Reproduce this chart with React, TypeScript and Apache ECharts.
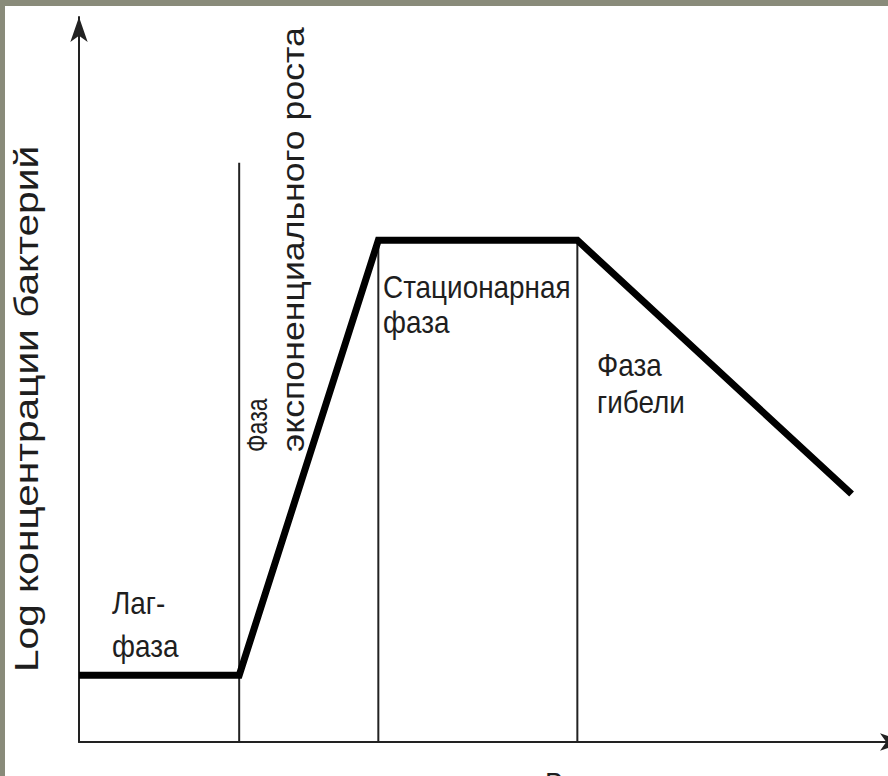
import React, { useEffect, useRef } from "react";
import * as echarts from "echarts";

// Phase boundaries on the time axis and log-concentration levels (axis units 0..100)
const curveX = [0, 19.8, 37.0, 61.6, 95.5];
const curveY = [9.2, 9.2, 69.2, 69.2, 34.2];
// Thin vertical divider lines: [x, top]
const dividerX = [19.8, 37.0, 61.6];
const dividerTop = [79.9, 69.2, 69.2];

const yTitle = "Log концентрации бактерий";
const xTitle = "Время";
const lagLabel = ["Лаг-", "фаза"];
const expLabel = ["Фаза", "экспоненциального роста"];
const statLabel = ["Стационарная", "фаза"];
const deathLabel = ["Фаза", "гибели"];

const FONT = "'Liberation Sans', Arial, sans-serif";
const TXT = "#1e1e1e";

export default function App() {
  const ref = useRef<HTMLDivElement>(null);
  useEffect(() => {
    if (!ref.current) return;
    const chart = echarts.init(ref.current, null, { renderer: "svg" });
    const hText = (text: string, x: number, y: number, size = 31) => ({
      type: "text",
      x,
      y,
      scaleX: 0.9,
      style: {
        text,
        fontSize: size,
        fontFamily: FONT,
        fill: TXT,
        align: "left",
        verticalAlign: "middle",
      },
    });
    const vText = (text: string, x: number, y: number, size: number, sLen: number) => ({
      type: "text",
      x,
      y,
      rotation: Math.PI / 2,
      scaleX: sLen,
      scaleY: 0.87,
      style: {
        text,
        fontSize: size,
        fontFamily: FONT,
        fill: TXT,
        align: "left",
        verticalAlign: "middle",
      },
    });
    const axisLine = (endOffset: number) => ({
      show: true,
      symbol: ["none", "arrow"],
      symbolSize: [13, 25],
      symbolOffset: [0, endOffset],
      lineStyle: { color: "#222", width: 2 },
    });
    const axisCommon = {
      type: "value" as const,
      min: 0,
      max: 100,
      axisTick: { show: false },
      axisLabel: { show: false },
      splitLine: { show: false },
    };
    chart.setOption({
      animation: false,
      backgroundColor: "#ffffff",
      grid: { left: 79, right: 0, top: 17, bottom: 34 },
      xAxis: { ...axisCommon, axisLine: axisLine(17) },
      yAxis: { ...axisCommon, axisLine: axisLine(0) },
      series: [
        ...dividerX.map((x, i) => ({
          type: "line",
          data: [
            [x, 0],
            [x, dividerTop[i]],
          ],
          symbol: "none",
          lineStyle: { color: "#222", width: 2 },
          z: 2,
        })),
        {
          type: "line",
          data: curveX.map((x, i) => [x, curveY[i]]),
          symbol: "none",
          lineStyle: { color: "#000", width: 7, cap: "butt", join: "miter" },
          z: 3,
        },
      ],
      graphic: [
        { type: "rect", shape: { x: 0, y: 0, width: 888, height: 6 }, style: { fill: "#898b7a" } },
        { type: "rect", shape: { x: 0, y: 0, width: 5, height: 776 }, style: { fill: "#898b7a" } },
        vText(yTitle, 26, 672, 38, 1.07),
        vText(expLabel[0], 257, 452, 33, 0.7),
        vText(expLabel[1], 293, 452, 35, 1.02),
        hText(lagLabel[0], 112, 603),
        hText(lagLabel[1], 112, 646),
        hText(statLabel[0], 383, 287),
        hText(statLabel[1], 383, 322),
        hText(deathLabel[0], 597, 365),
        hText(deathLabel[1], 597, 402),
        hText(xTitle, 545, 784),
      ],
    });
    return () => chart.dispose();
  }, []);
  return (
    <div
      ref={ref}
      style={{ position: "fixed", left: 0, top: 0, width: 888, height: 776 }}
    />
  );
}
